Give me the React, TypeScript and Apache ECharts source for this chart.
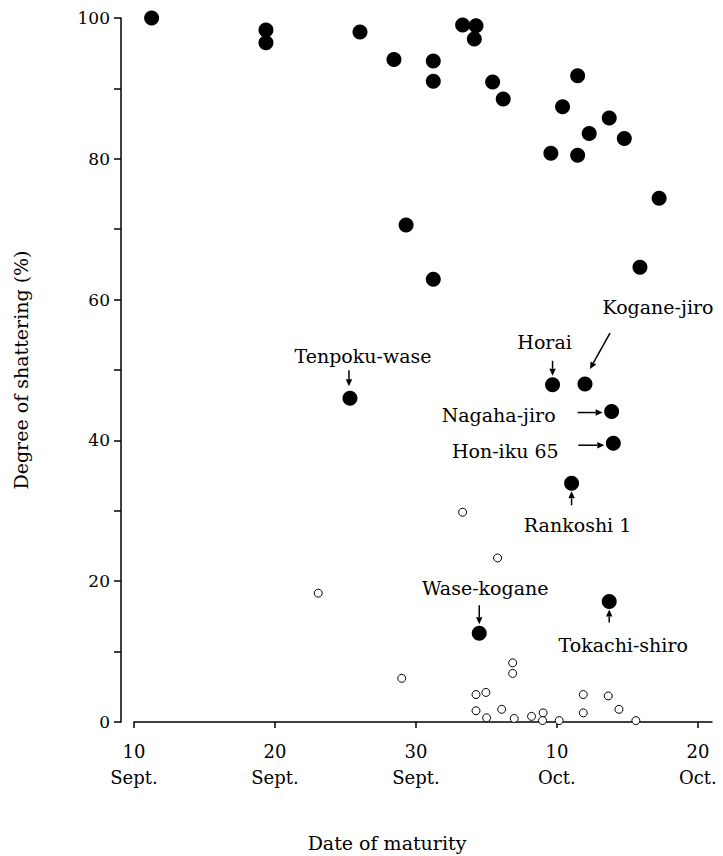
import React, { useEffect, useRef } from 'react';
import * as echarts from 'echarts';

// x = day counted from 1 Sept (so 1 Oct = 31)
const xTickValues = [10, 20, 30, 40, 50];
const xTickLabels = ['10\nSept.', '20\nSept.', '30\nSept.', '10\nOct.', '20\nOct.'];
const yTickLabels = ['0', '20', '40', '60', '80', '100'];

// filled circles (unlabeled)
const filledX = [11.25, 19.36, 19.36, 26.03, 28.44, 31.23, 31.23, 33.31, 34.26, 34.14, 35.44, 36.19, 41.47, 40.4, 43.71, 42.29, 44.78, 39.57, 41.47, 47.25, 29.3, 31.23, 45.89];
const filledY = [100, 98.3, 96.5, 98.0, 94.1, 93.9, 91.0, 99.0, 98.9, 97.0, 90.9, 88.5, 91.8, 87.4, 85.8, 83.6, 82.9, 80.8, 80.5, 74.4, 70.6, 62.9, 64.6];

// labeled varieties (filled circles)
const varietyNames = ['Tenpoku-wase', 'Horai', 'Kogane-jiro', 'Nagaha-jiro', 'Hon-iku 65', 'Rankoshi 1', 'Wase-kogane', 'Tokachi-shiro'];
const varietyX = [25.32, 39.69, 41.99, 43.88, 44.0, 41.04, 34.49, 43.71];
const varietyY = [46.0, 47.9, 48.0, 44.1, 39.6, 33.9, 12.6, 17.1];

// open circles
const openX = [23.07, 33.31, 35.79, 28.99, 36.86, 36.86, 34.26, 34.96, 34.26, 35.01, 36.08, 36.97, 38.2, 39.02, 38.98, 40.16, 41.87, 41.87, 43.64, 44.4, 45.6];
const openY = [18.3, 29.8, 23.3, 6.2, 8.4, 6.9, 3.9, 4.2, 1.6, 0.6, 1.8, 0.5, 0.8, 1.3, 0.2, 0.2, 3.9, 1.3, 3.7, 1.8, 0.2];

// annotation layout (pixel offsets relative to the point): text centre, arrow tail, arrow head
const annotLayout = [
  { dx: 13, dy: -42, ax1: -1, ay1: -28, ax2: -1, ay2: -12 },
  { dx: -8, dy: -43, ax1: 0, ay1: -24, ax2: 0, ay2: -9 },
  { dx: 73, dy: -77, ax1: 25, ay1: -51, ax2: 5, ay2: -15 },
  { dx: -113, dy: 3, ax1: -34, ay1: 1, ax2: -9, ay2: 1 },
  { dx: -108, dy: 8, ax1: -35, ay1: 2, ax2: -9, ay2: 2 },
  { dx: 6, dy: 42, ax1: 0, ay1: 22, ax2: 0, ay2: 8 },
  { dx: 6, dy: -45, ax1: 0, ay1: -28, ax2: 0, ay2: -9 },
  { dx: 14, dy: 43, ax1: 0, ay1: 21, ax2: 0, ay2: 8 },
];

const FONT = 'DejaVu Serif';

export default function App() {
  const ref = useRef<HTMLDivElement>(null);
  useEffect(() => {
    if (!ref.current) return;
    const chart = echarts.init(ref.current, undefined, { renderer: 'svg' });
    const option: any = {
      animation: false,
      backgroundColor: '#fff',
      grid: { left: 134, right: 11, top: 18, bottom: 134 },
      xAxis: {
        type: 'value',
        min: 10,
        max: 51,
        interval: 10,
        axisLine: { show: true, onZero: false, lineStyle: { color: '#000', width: 1.5 } },
        axisTick: { show: true, length: 6, lineStyle: { color: '#000', width: 1.5 } },
        splitLine: { show: false },
        axisLabel: {
          margin: 16,
          fontFamily: FONT,
          fontSize: 18,
          lineHeight: 26,
          color: '#000',
          showMaxLabel: false,
          formatter: (v: number) => {
            const i = xTickValues.indexOf(v);
            return i >= 0 ? xTickLabels[i] : '';
          },
        },
      },
      yAxis: {
        type: 'value',
        min: 0,
        max: 100,
        interval: 10,
        offset: 13,
        name: 'Degree of shattering (%)',
        nameLocation: 'middle',
        nameGap: 91,
        nameTextStyle: { fontFamily: FONT, fontSize: 19, color: '#000' },
        axisLine: { show: true, lineStyle: { color: '#000', width: 1.5 } },
        axisTick: { show: true, length: 7, lineStyle: { color: '#000', width: 1.5 } },
        splitLine: { show: false },
        axisLabel: {
          margin: 11,
          fontFamily: FONT,
          fontSize: 17,
          color: '#000',
          formatter: (v: number) => (yTickLabels.indexOf(String(v)) >= 0 ? String(v) : ''),
        },
      },
      series: [
        {
          name: 'Shattering (filled)',
          type: 'scatter',
          symbol: 'circle',
          symbolSize: 15,
          itemStyle: { color: '#000', opacity: 1 },
          data: filledX.map((x, i) => [x, filledY[i]]),
        },
        {
          name: 'Named varieties',
          type: 'scatter',
          symbol: 'circle',
          symbolSize: 15,
          itemStyle: { color: '#000', opacity: 1 },
          data: varietyX.map((x, i) => ({ name: varietyNames[i], value: [x, varietyY[i]] })),
        },
        {
          name: 'Shattering (open)',
          type: 'scatter',
          symbol: 'circle',
          symbolSize: 8,
          itemStyle: { color: '#fff', borderColor: '#000', borderWidth: 1, opacity: 1 },
          data: openX.map((x, i) => [x, openY[i]]),
        },
      ],
    };
    chart.setOption(option);

    const graphics: any[] = [];
    varietyNames.forEach((name, i) => {
      const p = chart.convertToPixel({ seriesIndex: 1 }, [varietyX[i], varietyY[i]]) as number[];
      const L = annotLayout[i];
      graphics.push({
        type: 'text',
        x: p[0] + L.dx,
        y: p[1] + L.dy,
        style: {
          text: name,
          fontFamily: FONT,
          fontSize: 19,
          fill: '#000',
          align: 'center',
          verticalAlign: 'middle',
        },
      });
      const x1 = p[0] + L.ax1, y1 = p[1] + L.ay1, x2 = p[0] + L.ax2, y2 = p[1] + L.ay2;
      const len = Math.hypot(x2 - x1, y2 - y1);
      const ux = (x2 - x1) / len, uy = (y2 - y1) / len;
      const hl = 7, hw = 3.2;
      const bx = x2 - ux * hl, by = y2 - uy * hl;
      graphics.push({
        type: 'line',
        shape: { x1, y1, x2: bx, y2: by },
        style: { stroke: '#000', lineWidth: 1.5 },
      });
      graphics.push({
        type: 'polygon',
        shape: {
          points: [
            [x2, y2],
            [bx - uy * hw, by + ux * hw],
            [bx + uy * hw, by - ux * hw],
          ],
        },
        style: { fill: '#000' },
      });
    });
    graphics.push({
      type: 'text',
      x: 387,
      y: 843,
      style: {
        text: 'Date of maturity',
        fontFamily: FONT,
        fontSize: 19,
        fill: '#000',
        align: 'center',
        verticalAlign: 'middle',
      },
    });
    chart.setOption({ graphic: graphics });

    return () => chart.dispose();
  }, []);
  return (
    <div
      ref={ref}
      style={{ position: 'fixed', left: 0, top: 0, width: 723, height: 856, background: '#fff' }}
    />
  );
}
